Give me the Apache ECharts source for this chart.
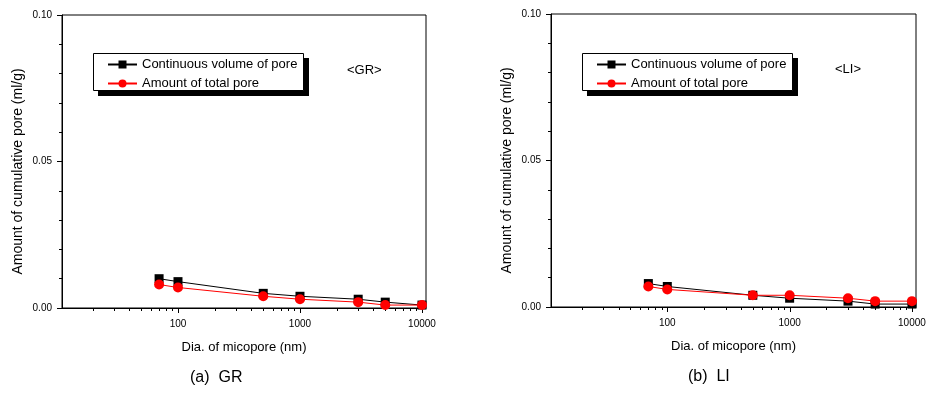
<!DOCTYPE html>
<html><head><meta charset="utf-8">
<script src="https://cdn.jsdelivr.net/npm/echarts@6/dist/echarts.min.js"></script>
<style>html,body{margin:0;padding:0;background:#fff}#c{width:937px;height:395px}</style>
</head><body><div id="c"></div>
<script>
const diameters = [70, 100, 500, 1000, 3000, 5000, 10000];
const grContinuous = [0.010, 0.009, 0.005, 0.004, 0.003, 0.002, 0.001];
const grTotal = [0.008, 0.007, 0.004, 0.003, 0.002, 0.001, 0.001];
const liContinuous = [0.008, 0.007, 0.004, 0.003, 0.002, 0.001, 0.001];
const liTotal = [0.007, 0.006, 0.004, 0.004, 0.003, 0.002, 0.002];
const xMajorTicks = [100, 1000, 10000];
const xMinorTicks = [20, 30, 40, 50, 60, 70, 80, 90, 200, 300, 400, 500, 600, 700, 800, 900, 2000, 3000, 4000, 5000, 6000, 7000, 8000, 9000];
const seriesNames = ['Continuous volume of pore', 'Amount of total pore'];
const panelTags = ['<GR>', '<LI>'];
const panelCaptions = ['(a)  GR', '(b)  LI'];
const xTitle = 'Dia. of micopore (nm)';
const yTitle = 'Amount of cumulative pore (ml/g)';

const FONT = 'Liberation Sans';
const chart = echarts.init(document.getElementById('c'), null, {renderer: 'canvas'});

const grids = [
  {left: 62, top: 15, width: 364, height: 293},
  {left: 551, top: 14, width: 365, height: 293}
];
const legendPos = [{left: 93, top: 53}, {left: 582, top: 53}];
const legendBox = {width: 211, height: 38};
const tagPos = [{left: 347, top: 64}, {left: 835, top: 63}];
const capPos = [{left: 190, top: 370}, {left: 688, top: 369}];

function xAxisCfg(i) {
  return {
    type: 'log', gridIndex: i, logBase: 10, min: 11.2, max: 10790,
    name: xTitle, nameLocation: 'middle', nameGap: 33,
    nameTextStyle: {color: '#000', fontSize: 13, fontFamily: FONT},
    axisLine: {lineStyle: {color: '#000', width: 1}},
    axisTick: {show: false},
    splitLine: {show: false},
    axisLabel: {
      color: '#000', fontSize: 10, fontFamily: FONT, margin: 11,
      formatter: v => xMajorTicks.some(t => Math.abs(t - v) / t < 1e-6) ? String(Math.round(v)) : ''
    }
  };
}
function yAxisCfg(i) {
  return {
    type: 'value', gridIndex: i, min: 0, max: 0.1, interval: 0.05,
    name: yTitle, nameLocation: 'middle', nameGap: 37,
    nameTextStyle: {color: '#000', fontSize: 14, fontFamily: FONT, padding: [0, 20, 0, 0]},
    axisLine: {show: true, lineStyle: {color: '#000', width: 1}},
    axisTick: {show: true, length: 5, lineStyle: {color: '#000'}},
    minorTick: {show: true, splitNumber: 5, length: 3, lineStyle: {color: '#000'}},
    splitLine: {show: false},
    minorSplitLine: {show: false},
    axisLabel: {color: '#000', fontSize: 10, fontFamily: FONT, margin: 10, formatter: v => v.toFixed(2)}
  };
}
const tickData = xMajorTicks.concat(xMinorTicks).map(v => [v, 0]);
function tickSeries(i) {
  return {
    type: 'custom', xAxisIndex: i, yAxisIndex: i, silent: true, clip: false,
    data: tickData,
    renderItem: (params, api) => {
      const v = api.value(0);
      const p = api.coord([v, 0]);
      const len = xMajorTicks.indexOf(v) >= 0 ? 5 : 3;
      const x = Math.round(p[0]) + 0.5;
      return {type: 'line', shape: {x1: x, y1: p[1], x2: x, y2: p[1] + len}, style: {stroke: '#000', lineWidth: 1}};
    }
  };
}
function lineSeries(i, name, vals, color, symbol, size) {
  return {
    type: 'line', name: name, xAxisIndex: i, yAxisIndex: i,
    data: diameters.map((d, k) => [d, vals[k]]),
    symbol: symbol, symbolSize: size, showAllSymbol: true,
    lineStyle: {color: color, width: 1},
    itemStyle: {color: color},
    emphasis: {disabled: true}, animation: false, z: 3
  };
}
const legends = legendPos.map(p => ({
  left: p.left, top: p.top, orient: 'vertical', data: seriesNames,
  itemWidth: 29, itemHeight: 10, itemGap: 6,
  padding: [5, 7, 5, 14],
  textStyle: {color: '#000', fontSize: 13, fontFamily: FONT},
  selectedMode: false, z: 5
}));
const graphics = [];
legendPos.forEach(p => {
  graphics.push({type: 'rect', z: 3, silent: true,
    shape: {x: p.left + 5, y: p.top + 5, width: legendBox.width, height: legendBox.height},
    style: {fill: '#000'}});
  graphics.push({type: 'rect', z: 4, silent: true,
    shape: {x: p.left + 0.5, y: p.top + 0.5, width: legendBox.width - 1, height: legendBox.height - 1},
    style: {fill: '#fff', stroke: '#000', lineWidth: 1}});
});
const titles = [];
panelTags.forEach((t, i) => titles.push({text: t, left: tagPos[i].left, top: tagPos[i].top, padding: 0,
  textStyle: {color: '#000', fontSize: 13, fontWeight: 'normal', fontFamily: FONT}}));
panelCaptions.forEach((t, i) => titles.push({text: t, left: capPos[i].left, top: capPos[i].top, padding: 0,
  textStyle: {color: '#000', fontSize: 16, fontWeight: 'normal', fontFamily: FONT}}));

chart.setOption({
  animation: false,
  backgroundColor: '#fff',
  title: titles,
  legend: legends,
  graphic: graphics,
  grid: grids.map(g => Object.assign({show: true, borderColor: '#000', borderWidth: 1, backgroundColor: 'transparent', containLabel: false}, g)),
  xAxis: [xAxisCfg(0), xAxisCfg(1)],
  yAxis: [yAxisCfg(0), yAxisCfg(1)],
  series: [
    tickSeries(0), tickSeries(1),
    lineSeries(0, seriesNames[0], grContinuous, '#000', 'rect', 9),
    lineSeries(0, seriesNames[1], grTotal, '#ff0000', 'circle', 10),
    lineSeries(1, seriesNames[0], liContinuous, '#000', 'rect', 9),
    lineSeries(1, seriesNames[1], liTotal, '#ff0000', 'circle', 10)
  ]
});
</script></body></html>
